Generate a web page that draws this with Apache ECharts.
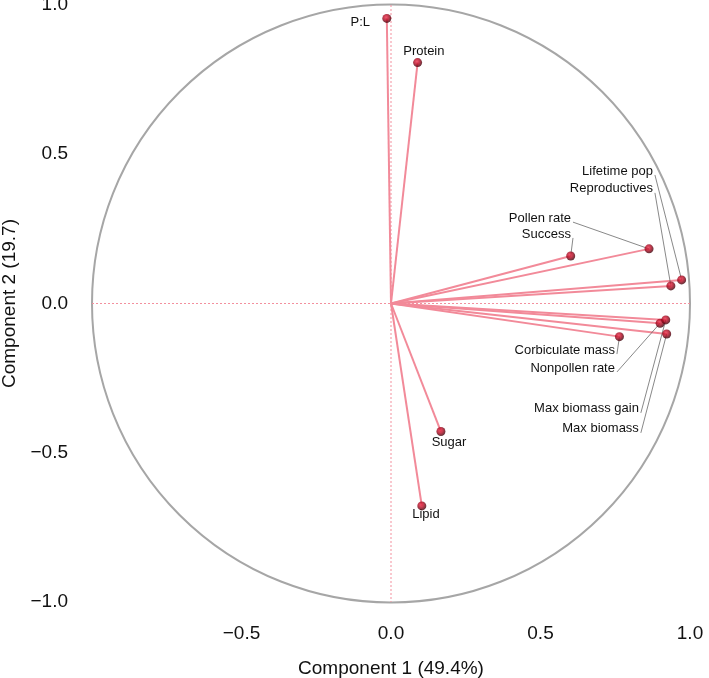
<!DOCTYPE html>
<html><head><meta charset="utf-8">
<script src="https://cdn.jsdelivr.net/npm/echarts@6/dist/echarts.min.js"></script>
<style>html,body{margin:0;padding:0;background:#fff}#c{width:709px;height:678px}</style>
</head><body><div id="c"></div>
<script>
// ---- data ----
const variables = ['P:L','Protein','Lifetime pop','Reproductives','Pollen rate','Success','Corbiculate mass','Nonpollen rate','Max biomass gain','Max biomass','Sugar','Lipid'];
const component1 = [-0.014, 0.089, 0.972, 0.936, 0.863, 0.601, 0.764, 0.900, 0.919, 0.922, 0.167, 0.103];
const component2 = [0.955, 0.807, 0.079, 0.059, 0.183, 0.159, -0.111, -0.066, -0.055, -0.102, -0.429, -0.678];
const axisTicks = [-1, -0.5, 0, 0.5, 1];
const xTitle = 'Component 1 (49.4%)';
const yTitle = 'Component 2 (19.7)';

// ---- label layout (data units) ----
const labelX = [-0.070, 0.110, 0.876, 0.876, 0.602, 0.602, 0.749, 0.749, 0.829, 0.829, 0.194, 0.117];
const labelY = [0.940, 0.843, 0.444, 0.384, 0.286, 0.233, -0.156, -0.216, -0.353, -0.420, -0.467, -0.705];
const labelAlign = ['right','center','right','right','right','right','right','right','right','right','center','center'];
const hasLeader = [false,false,true,true,true,true,true,true,true,true,false,false];

const FONT = '"Liberation Sans", Arial, Helvetica, sans-serif';
const fmt = v => (v < 0 ? '\u2212' + Math.abs(v).toFixed(1) : v.toFixed(1));

const chart = echarts.init(document.getElementById('c'), null, {renderer: 'canvas'});

const vectorData = variables.map((n, i) => [component1[i], component2[i], i]);

const option = {
  animation: false,
  backgroundColor: '#fff',
  grid: {left: 92, width: 598, top: 5, height: 597, containLabel: false, outerBoundsMode: 'none'},
  xAxis: {
    type: 'value', min: -1, max: 1, interval: 0.5,
    axisLine: {show: false}, axisTick: {show: false}, splitLine: {show: false},
    axisLabel: {showMinLabel: false, formatter: fmt, fontSize: 19, color: '#111', fontFamily: FONT, margin: 22},
    name: xTitle, nameLocation: 'middle', nameGap: 57,
    nameTextStyle: {fontSize: 19, color: '#111', fontFamily: FONT}
  },
  yAxis: {
    type: 'value', min: -1, max: 1, interval: 0.5,
    axisLine: {show: false}, axisTick: {show: false}, splitLine: {show: false},
    axisLabel: {formatter: fmt, fontSize: 19, color: '#111', fontFamily: FONT, margin: 24},
    name: yTitle, nameLocation: 'middle', nameGap: 65,
    nameTextStyle: {fontSize: 19, color: '#111', fontFamily: FONT}
  },
  series: [
    { // unit circle + dotted cross
      type: 'custom', z: 1, silent: true, clip: false,
      data: [[0, 0]],
      renderItem: (params, api) => {
        const c = api.coord([0, 0]);
        const r = api.coord([1, 0])[0] - c[0];
        const l = api.coord([-1, 0]), rr = api.coord([1, 0]);
        const t = api.coord([0, 1]), b = api.coord([0, -1]);
        return {type: 'group', children: [
          {type: 'circle', shape: {cx: c[0], cy: c[1], r: r}, style: {fill: 'none', stroke: '#a6a6a6', lineWidth: 2}},
          {type: 'line', shape: {x1: l[0], y1: l[1], x2: rr[0], y2: rr[1]}, style: {stroke: '#f3909e', lineWidth: 1, lineDash: [2, 2]}},
          {type: 'line', shape: {x1: t[0], y1: t[1], x2: b[0], y2: b[1]}, style: {stroke: '#f3909e', lineWidth: 1, lineDash: [2, 2]}}
        ]};
      }
    },
    { // loading vectors
      type: 'custom', z: 2, silent: true, clip: false,
      data: vectorData,
      renderItem: (params, api) => {
        const o = api.coord([0, 0]);
        const p = api.coord([api.value(0), api.value(1)]);
        return {type: 'line', shape: {x1: o[0], y1: o[1], x2: p[0], y2: p[1]},
          style: {stroke: '#f28a99', lineWidth: 2}};
      }
    },
    { // leader lines + labels
      type: 'custom', z: 3, silent: true, clip: false,
      data: vectorData,
      renderItem: (params, api) => {
        const i = api.value(2);
        const p = api.coord([component1[i], component2[i]]);
        const a = api.coord([labelX[i], labelY[i]]);
        const children = [
          {type: 'text', x: a[0], y: a[1], style: {text: variables[i], fill: '#111', font: '13px ' + FONT, align: labelAlign[i], verticalAlign: 'middle'}}
        ];
        if (hasLeader[i]) {
          children.push({type: 'line', shape: {x1: a[0] + 2, y1: a[1] + 4, x2: p[0], y2: p[1]},
            style: {stroke: '#555', lineWidth: 0.7}});
        }
        return {type: 'group', children};
      }
    },
    { // loading points
      type: 'scatter', z: 4, silent: true,
      data: vectorData,
      symbol: 'circle', symbolSize: 9,
      itemStyle: {
        color: new echarts.graphic.RadialGradient(0.42, 0.38, 0.62, [
          {offset: 0, color: '#f0304c'}, {offset: 0.5, color: '#b00820'}, {offset: 1, color: '#3a0008'}
        ])
      }
    }
  ]
};
chart.setOption(option);
</script>
</body></html>
